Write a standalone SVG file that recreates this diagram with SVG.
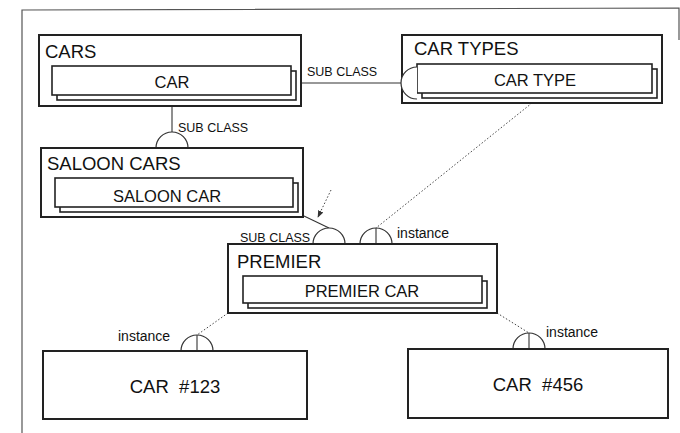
<svg xmlns="http://www.w3.org/2000/svg" width="680" height="433" viewBox="0 0 680 433">
<defs>
<style>
.frame{fill:none;stroke:#555;stroke-width:1.2}
.outer{fill:#fff;stroke:#222;stroke-width:2}
.inner{fill:#fff;stroke:#222;stroke-width:1.6}
.shadow{fill:#fff;stroke:#222;stroke-width:1.6}
.title{font-family:"Liberation Sans",Arial,sans-serif;font-size:18.5px;fill:#111}
.lbl{font-family:"Liberation Sans",Arial,sans-serif;font-size:16.5px;fill:#111;text-anchor:middle}
.big{font-family:"Liberation Sans",Arial,sans-serif;font-size:18.5px;fill:#111;text-anchor:middle}
.small{font-family:"Liberation Sans",Arial,sans-serif;font-size:12.5px;fill:#111}
.inst{font-family:"Liberation Sans",Arial,sans-serif;font-size:14px;fill:#111}
.line{fill:none;stroke:#333;stroke-width:1.1}
.dot{fill:none;stroke:#444;stroke-width:1;stroke-dasharray:1.5 2}
.arc{fill:#fff;stroke:#333;stroke-width:1.2}
</style>
<marker id="ah" viewBox="0 0 10 10" refX="9" refY="5" markerWidth="7" markerHeight="7" orient="auto">
<path d="M0,1 L10,5 L0,9 z" fill="#333"/>
</marker>
</defs>
<path class="frame" d="M22,433 L22,10 L679,8 L679,40"/>
<g id="connectors">
<line class="line" x1="301" y1="83" x2="402" y2="83"/>
<line class="line" x1="172" y1="106" x2="172" y2="132"/>
<line class="line" x1="304" y1="216" x2="329" y2="228"/>
<line class="dot" x1="331" y1="190" x2="318" y2="217" marker-end="url(#ah)"/>
<line class="dot" x1="532" y1="103" x2="376" y2="228"/>
<line class="dot" x1="228" y1="313" x2="197" y2="335"/>
<line class="dot" x1="497" y1="313" x2="529" y2="333"/>
<path class="arc" d="M156,148 A16,16 0 0 1 188,148 Z"/>
<path class="arc" d="M313,244 A16,16 0 0 1 345,244"/>
<path class="arc" d="M360,244 A16,16 0 0 1 392,244"/>
<line class="line" x1="376" y1="228" x2="376" y2="244"/>
<path class="arc" d="M181,351 A16,16 0 0 1 213,351"/>
<line class="line" x1="197" y1="335" x2="197" y2="351"/>
<path class="arc" d="M513,349 A16,16 0 0 1 545,349"/>
<line class="line" x1="529" y1="333" x2="529" y2="349"/>
<text class="small" x="307" y="76">SUB CLASS</text>
<text class="small" x="178" y="132">SUB CLASS</text>
<text class="small" x="240" y="242">SUB CLASS</text>
<text class="inst" x="397" y="238">instance</text>
<text class="inst" x="118" y="341">instance</text>
<text class="inst" x="546" y="337">instance</text>
</g>
<g id="cars">
<rect class="outer" x="39" y="35" width="262" height="71"/>
<text class="title" x="45" y="58">CARS</text>
<rect class="shadow" x="57" y="71" width="239" height="29"/>
<rect class="inner" x="52" y="66" width="239" height="29"/>
<text class="lbl" x="172" y="88">CAR</text>
</g>
<g id="saloon-cars">
<rect class="outer" x="41" y="148" width="262" height="69"/>
<text class="title" x="47" y="170">SALOON CARS</text>
<rect class="shadow" x="60" y="183" width="238" height="29"/>
<rect class="inner" x="55" y="178" width="238" height="29"/>
<text class="lbl" x="167" y="202">SALOON CAR</text>
</g>
<g id="car-types">
<rect class="outer" x="402" y="35" width="260" height="68"/>
<text class="title" x="414" y="55">CAR TYPES</text>
<rect class="shadow" x="422" y="69" width="235" height="29"/>
<rect class="inner" x="417" y="64" width="235" height="29"/>
<text class="lbl" x="535" y="86">CAR TYPE</text>
<path class="arc" d="M417,67 A16,16 0 0 0 417,99"/>
</g>
<g id="premier">
<rect class="outer" x="228" y="244" width="269" height="69"/>
<text class="title" x="237" y="268">PREMIER</text>
<rect class="shadow" x="248" y="281" width="239" height="27"/>
<rect class="inner" x="243" y="276" width="239" height="27"/>
<text class="lbl" x="362" y="297">PREMIER CAR</text>
</g>
<g id="car-123">
<rect class="outer" x="43" y="351" width="264" height="68"/>
<text class="big" x="175" y="393">CAR&#160; #123</text>
</g>
<g id="car-456">
<rect class="outer" x="408" y="349" width="260" height="69"/>
<text class="big" x="538" y="391">CAR&#160; #456</text>
</g>
</svg>
